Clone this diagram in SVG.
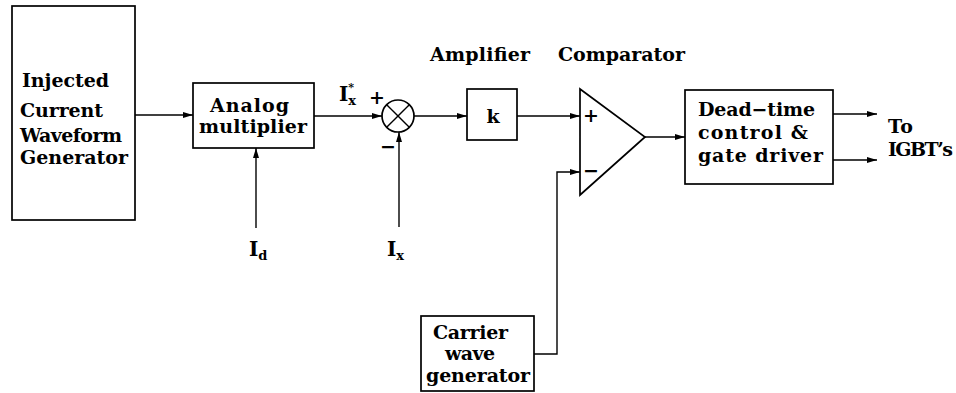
<svg xmlns="http://www.w3.org/2000/svg" width="956" height="393" viewBox="0 0 956 393">
<style>
.box{fill:#fff;stroke:#000;stroke-width:1.7}
.ln{fill:none;stroke:#000;stroke-width:1.4}
.t{font-family:"DejaVu Serif","Liberation Serif",serif;font-size:19px;font-weight:bold;fill:#000}
.b{font-family:"DejaVu Serif","Liberation Serif",serif;font-size:20px;font-weight:bold;fill:#000}
.sub{font-size:13px}
.sup{font-size:11px}
</style>
<defs>
<marker id="ah" viewBox="0 0 10 8" refX="10" refY="4" markerWidth="10" markerHeight="8" markerUnits="userSpaceOnUse" orient="auto">
<path d="M0,1 L10,4 L0,7 Z" fill="#000"/>
</marker>
</defs>
<rect width="956" height="393" fill="#fff"/>
<g id="connectors">
<line class="ln" x1="135" y1="115" x2="193" y2="115" marker-end="url(#ah)"/>
<line class="ln" x1="256" y1="228" x2="256" y2="148" marker-end="url(#ah)"/>
<line class="ln" x1="314" y1="116" x2="382" y2="116" marker-end="url(#ah)"/>
<line class="ln" x1="399" y1="227" x2="399" y2="132" marker-end="url(#ah)"/>
<line class="ln" x1="414" y1="116" x2="467" y2="116" marker-end="url(#ah)"/>
<line class="ln" x1="517" y1="116" x2="580" y2="116" marker-end="url(#ah)"/>
<polyline class="ln" points="534,354 557,354 557,172 580,172" marker-end="url(#ah)"/>
<line class="ln" x1="645" y1="137" x2="685" y2="137" marker-end="url(#ah)"/>
<line class="ln" x1="833" y1="114" x2="877" y2="114" marker-end="url(#ah)"/>
<line class="ln" x1="833" y1="160" x2="877" y2="160" marker-end="url(#ah)"/>
</g>
<g id="injected">
<rect class="box" x="12" y="6" width="123" height="214"/>
<text class="t" x="22" y="87" textLength="87">Injected</text>
<text class="t" x="20" y="117" textLength="83">Current</text>
<text class="t" x="20" y="142" textLength="102">Waveform</text>
<text class="t" x="20" y="164" textLength="108">Generator</text>
</g>
<g id="multiplier">
<rect class="box" x="193" y="83" width="121" height="65"/>
<text class="t" x="210" y="112" textLength="79">Analog</text>
<text class="t" x="199" y="133" textLength="108">multiplier</text>
</g>
<g id="id-label">
<text class="b" x="249" y="256">I<tspan class="sub" dy="4">d</tspan></text>
</g>
<g id="summer">
<circle cx="398" cy="116" r="16" fill="#fff" stroke="#000" stroke-width="1.7"/>
<line class="ln" x1="386.7" y1="104.7" x2="409.3" y2="127.3"/>
<line class="ln" x1="409.3" y1="104.7" x2="386.7" y2="127.3"/>
<text class="b" x="339" y="101">I<tspan class="sub" dy="4">x</tspan><tspan class="sup" dx="-8" dy="-14">*</tspan></text>
<text class="t" x="369" y="104">+</text>
<text class="t" x="380" y="153">−</text>
</g>
<g id="ix-label">
<text class="b" x="387" y="256">I<tspan class="sub" dy="4">x</tspan></text>
</g>
<g id="amplifier">
<text class="t" x="430" y="61" textLength="100">Amplifier</text>
<rect class="box" x="467" y="89" width="50" height="51"/>
<text class="t" x="493" y="123" text-anchor="middle">k</text>
</g>
<g id="comparator">
<text class="t" x="558" y="61" textLength="127">Comparator</text>
<polygon class="box" points="580,89 645,137 580,195"/>
<text class="t" x="583" y="122">+</text>
<text class="t" x="583" y="177">−</text>
</g>
<g id="deadtime">
<rect class="box" x="685" y="90" width="148" height="94"/>
<text class="t" x="698" y="116" textLength="117">Dead−time</text>
<text class="t" x="698" y="139" textLength="110">control &amp;</text>
<text class="t" x="698" y="162" textLength="125">gate driver</text>
</g>
<g id="igbt-label">
<text class="t" x="888" y="133" textLength="25">To</text>
<text class="t" x="888" y="156" textLength="65">IGBT’s</text>
</g>
<g id="carrier">
<rect class="box" x="421" y="316" width="113" height="75"/>
<text class="t" x="433" y="339" textLength="75">Carrier</text>
<text class="t" x="445" y="360" textLength="50">wave</text>
<text class="t" x="426" y="382" textLength="104">generator</text>
</g>
</svg>
